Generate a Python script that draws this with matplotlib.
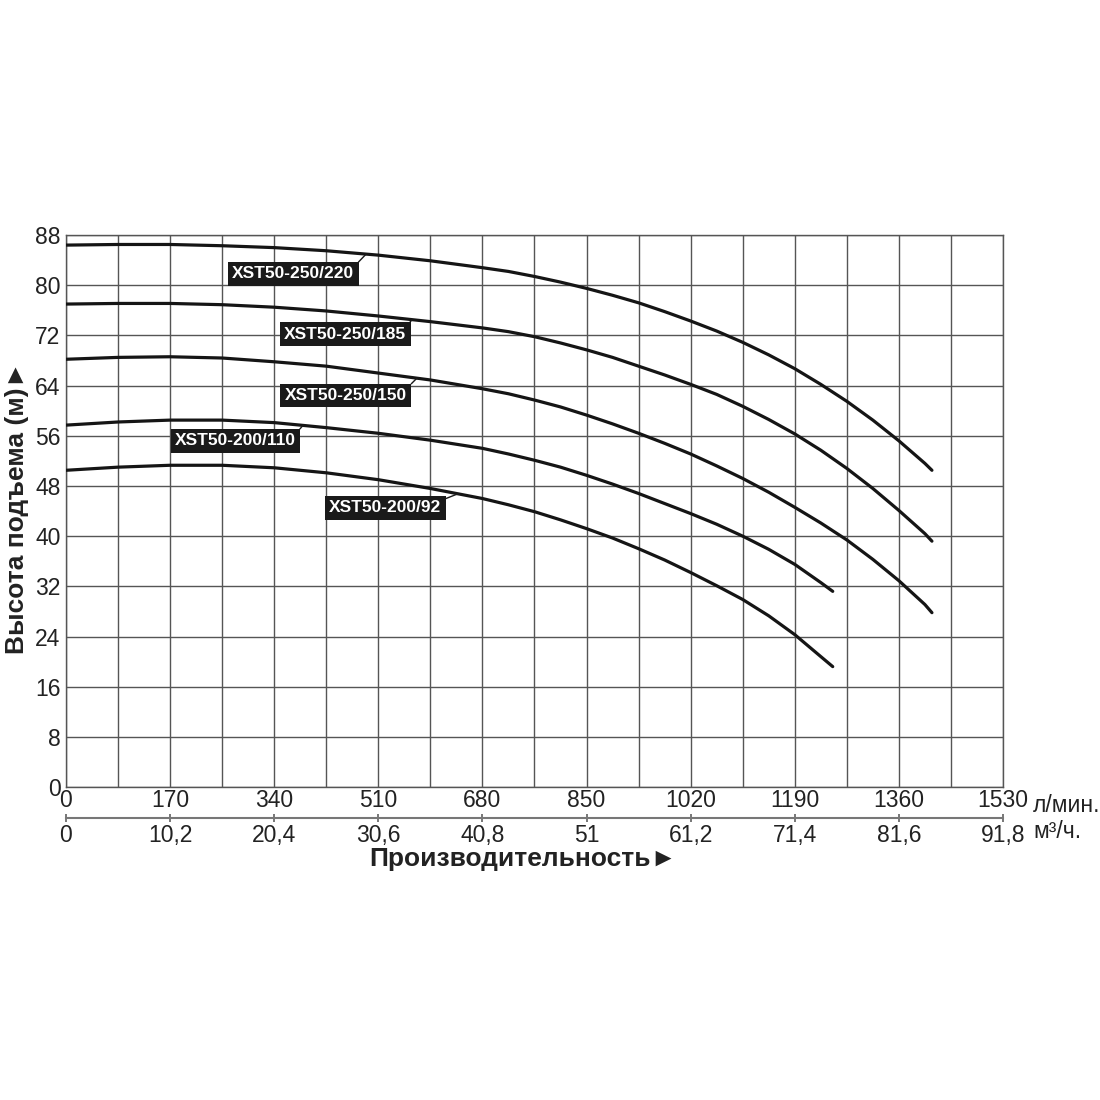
import matplotlib
matplotlib.use('Agg')
import matplotlib.pyplot as plt
import numpy as np

plt.rcParams['font.family'] = ['Liberation Sans', 'DejaVu Sans']

# flow, l/min
flow = [0, 85, 170, 255, 340, 425, 510, 595, 680, 722.5, 765, 807.5, 850, 892.5,
        935, 977.5, 1020, 1062.5, 1105, 1147.5, 1190, 1232.5]
flow_long = flow + [1275, 1317.5, 1360, 1402.5, 1414]
flow_short = flow + [1252]

# head, m
h_220 = [86.4, 86.5, 86.5, 86.3, 86.0, 85.5, 84.8, 83.9, 82.8, 82.2, 81.4, 80.5, 79.5, 78.4,
         77.2, 75.8, 74.3, 72.7, 70.9, 68.9, 66.7, 64.2, 61.5, 58.5, 55.2, 51.6, 50.5]
h_185 = [77.0, 77.1, 77.1, 76.9, 76.5, 75.9, 75.1, 74.2, 73.2, 72.6, 71.8, 70.8, 69.7, 68.5,
         67.1, 65.7, 64.2, 62.6, 60.7, 58.6, 56.3, 53.7, 50.8, 47.6, 44.1, 40.4, 39.2]
h_150 = [68.2, 68.5, 68.6, 68.4, 67.8, 67.1, 66.0, 64.9, 63.5, 62.7, 61.7, 60.6, 59.3, 57.9,
         56.4, 54.8, 53.1, 51.2, 49.2, 47.0, 44.6, 42.1, 39.4, 36.3, 32.9, 29.1, 27.8]
h_110 = [57.7, 58.2, 58.5, 58.5, 58.1, 57.3, 56.4, 55.3, 54.0, 53.1, 52.1, 51.0, 49.7, 48.3,
         46.8, 45.2, 43.6, 41.9, 40.0, 37.9, 35.5, 32.6, 31.2]
h_92 = [50.5, 51.0, 51.3, 51.3, 50.9, 50.1, 49.0, 47.6, 46.0, 45.0, 43.9, 42.6, 41.2, 39.7,
        38.0, 36.2, 34.2, 32.1, 29.9, 27.3, 24.3, 20.8, 19.2]

names = ['XST50-250/220', 'XST50-250/185', 'XST50-250/150', 'XST50-200/110', 'XST50-200/92']
# label box centre (flow, head) and flow where the leader touches the curve
label_xy = [(371, 81.8), (456, 72.2), (457, 62.4), (277, 55.2), (521, 44.5)]
leader_flow = [490, 565, 573, 387, 640]

lpm_ticks = [0, 170, 340, 510, 680, 850, 1020, 1190, 1360, 1530]
m3h_ticks = [0, 10.2, 20.4, 30.6, 40.8, 51, 61.2, 71.4, 81.6, 91.8]
head_ticks = list(range(0, 89, 8))

fig = plt.figure(figsize=(11, 11), dpi=100)
fig.patch.set_facecolor('white')
ax = fig.add_axes([0.06, 0.2845, 0.8518, 0.5018])

ax.set_xlim(0, 1530)
ax.set_ylim(0, 88)
ax.set_xticks(np.arange(0, 1531, 85))
ax.set_xticklabels([])
ax.set_yticks(head_ticks)
ax.set_yticklabels([str(v) for v in head_ticks], fontsize=16.5, color='#222222')
ax.tick_params(axis='both', length=0, pad=4)
ax.grid(True, color='#555555', linewidth=1.0)
ax.set_axisbelow(True)
for s in ax.spines.values():
    s.set_color('#555555')
    s.set_linewidth(1.0)

curves = [(flow_long, h_220), (flow_long, h_185), (flow_long, h_150),
          (flow_short, h_110), (flow_short, h_92)]
for (q, h) in curves:
    ax.plot(q, h, color='#151515', lw=2.3, solid_joinstyle='round',
            solid_capstyle='round', zorder=3)

for (q, h), name, (lx, ly), lf in zip(curves, names, label_xy, leader_flow):
    hy = np.interp(lf, q, h)
    ax.annotate(name, xy=(lf, hy), xytext=(lx, ly), ha='center', va='center',
                fontsize=12.5, fontweight='bold', color='white', zorder=5,
                bbox=dict(boxstyle='square,pad=0.25', facecolor='#1a1a1a', edgecolor='none'),
                arrowprops=dict(arrowstyle='-', color='#1a1a1a', lw=1.0,
                                relpos=(1, 1), shrinkA=0, shrinkB=0))

# second flow scale below the plot
y_line = 1 - 818 / 1100
ax_top = fig.add_axes([0.06, y_line, 0.8518, 0.0001])
ax_top.set_xlim(0, 1530)
ax_top.set_yticks([])
for s in ['left', 'right', 'bottom']:
    ax_top.spines[s].set_visible(False)
ax_top.spines['top'].set_color('#777777')
ax_top.spines['top'].set_linewidth(1.5)
ax_top.set_xticks(lpm_ticks)
ax_top.set_xticklabels([str(v) for v in lpm_ticks], fontsize=16.5, color='#222222')
ax_top.tick_params(axis='x', bottom=False, labelbottom=False, top=True, labeltop=True,
                   direction='inout', length=6, width=1.2, color='#777777', pad=1)
ax_top.patch.set_alpha(0)

ax_bot = fig.add_axes([0.06, y_line, 0.8518, 0.0001])
ax_bot.set_xlim(0, 91.8)
ax_bot.set_yticks([])
for s in ax_bot.spines.values():
    s.set_visible(False)
ax_bot.set_xticks(m3h_ticks)
ax_bot.set_xticklabels([f'{v:g}'.replace('.', ',') for v in m3h_ticks], fontsize=16.5, color='#222222')
ax_bot.tick_params(axis='x', direction='inout', length=6, width=1.2, color='#777777', pad=1)
ax_bot.patch.set_alpha(0)

fig.text(1033 / 1100, 1 - 805 / 1100, 'л/мин.', fontsize=16.5, color='#222222', ha='left', va='center')
fig.text(1033 / 1100, 1 - 831 / 1100, 'м³/ч.', fontsize=16.5, color='#222222', ha='left', va='center')

fig.text(523 / 1100, 1 - 859 / 1100, 'Производительность►', fontsize=19, fontweight='bold',
         color='#222222', ha='center', va='center')
fig.text(17 / 1100, 1 - 508 / 1100, 'Высота подъема (м)►', fontsize=19, fontweight='bold',
         color='#222222', ha='center', va='center', rotation=90)

fig.savefig('out.png', dpi=100, facecolor='white')
